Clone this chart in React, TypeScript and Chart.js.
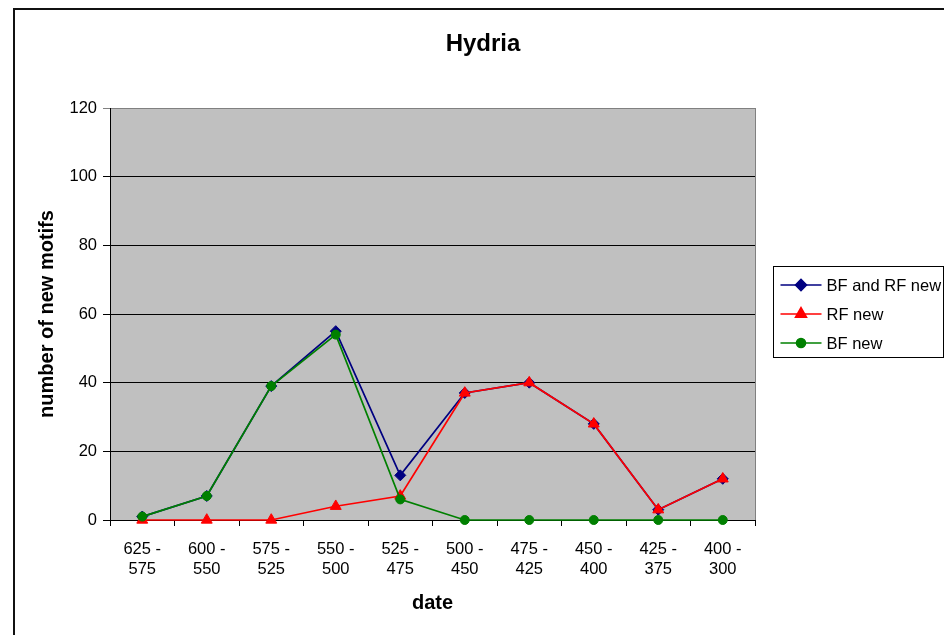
import React, { useEffect, useRef } from "react";
import { Chart, registerables } from "chart.js";
import { drawPoint } from "chart.js/helpers";

Chart.register(...registerables);

const chartTitle = "Hydria";
const xTitle = "date";
const yTitle = "number of new motifs";
const categories: string[][] = [
  ["625 -", "575"],
  ["600 -", "550"],
  ["575 -", "525"],
  ["550 -", "500"],
  ["525 -", "475"],
  ["500 -", "450"],
  ["475 -", "425"],
  ["450 -", "400"],
  ["425 -", "375"],
  ["400 -", "300"],
];
const seriesNames = ["BF and RF new", "RF new", "BF new"];
const bfAndRfNew = [1, 7, 39, 55, 13, 37, 40, 28, 3, 12];
const rfNew = [0, 0, 0, 4, 7, 37, 40, 28, 3, 12];
const bfNew = [1, 7, 39, 54, 6, 0, 0, 0, 0, 0];
const yMin = 0;
const yMax = 120;
const yStep = 20;

const FONT = '"Liberation Sans", Arial, Helvetica, sans-serif';

const framePlugin = {
  id: "frameAndPlot",
  beforeDraw(chart: any) {
    const { ctx, chartArea } = chart;
    ctx.save();
    ctx.fillStyle = "#C0C0C0";
    ctx.fillRect(chartArea.left, chartArea.top, chartArea.right - chartArea.left, chartArea.bottom - chartArea.top);
    // outer frame (left + top)
    ctx.strokeStyle = "#111";
    ctx.lineWidth = 2;
    ctx.beginPath();
    ctx.moveTo(6, chart.height);
    ctx.lineTo(6, 1);
    ctx.lineTo(chart.width, 1);
    ctx.stroke();
    ctx.restore();
  },
  beforeDatasetsDraw(chart: any) {
    const { ctx, chartArea } = chart;
    ctx.save();
    ctx.strokeStyle = "#808080";
    ctx.lineWidth = 1;
    ctx.beginPath();
    ctx.moveTo(Math.round(chartArea.right) + 0.5, chartArea.top);
    ctx.lineTo(Math.round(chartArea.right) + 0.5, chartArea.bottom);
    ctx.stroke();
    ctx.restore();
  },
};

const legendPlugin = {
  id: "boxLegend",
  afterDraw(chart: any) {
    const { ctx, chartArea } = chart;
    const left = Math.round(chartArea.right) + 18.5;
    const top = 258.5;
    const w = 170;
    const h = 91;
    ctx.save();
    ctx.fillStyle = "#fff";
    ctx.fillRect(left, top, w, h);
    ctx.strokeStyle = "#000";
    ctx.lineWidth = 1;
    ctx.strokeRect(left, top, w, h);
    chart.data.datasets.forEach((ds: any, i: number) => {
      const y = top + 18.5 + i * 29;
      ctx.strokeStyle = ds.borderColor;
      ctx.lineWidth = 1.6;
      ctx.beginPath();
      ctx.moveTo(left + 7, y);
      ctx.lineTo(left + 48, y);
      ctx.stroke();
      ctx.fillStyle = ds.pointBackgroundColor;
      ctx.strokeStyle = ds.pointBorderColor;
      drawPoint(ctx, { pointStyle: ds.pointStyle, rotation: 0, radius: ds.pointRadius, borderWidth: 1 }, left + 27.5, y);
      ctx.fillStyle = "#000";
      ctx.font = `16.5px ${FONT}`;
      ctx.textAlign = "left";
      ctx.textBaseline = "middle";
      ctx.fillText(ds.label, left + 53, y + 1);
    });
    ctx.restore();
  },
};

export default function App() {
  const ref = useRef<HTMLCanvasElement | null>(null);

  useEffect(() => {
    if (!ref.current) return;
    Chart.defaults.font.family = FONT;
    Chart.defaults.color = "#000";
    const mk = (label: string, data: number[], color: string, style: string, r: number) => ({
      label,
      data,
      borderColor: color,
      backgroundColor: color,
      pointBackgroundColor: color,
      pointBorderColor: color,
      pointStyle: style,
      pointRadius: r,
      pointBorderWidth: 1,
      borderWidth: 1.7,
      tension: 0,
      clip: false as any,
    });
    const chart = new Chart(ref.current, {
      type: "line",
      data: {
        labels: categories,
        datasets: [
          { ...mk(seriesNames[0], bfAndRfNew, "#000080", "rectRot", 5.5), order: 2 },
          { ...mk(seriesNames[1], rfNew, "#FF0000", "triangle", 6.3), order: 1 },
          { ...mk(seriesNames[2], bfNew, "#008000", "circle", 4.5), order: 0 },
        ],
      },
      options: {
        animation: false,
        responsive: false,
        devicePixelRatio: 1,
        layout: { padding: { left: 14, right: 0, top: 0, bottom: 0 } },
        plugins: {
          legend: { display: false },
          tooltip: { enabled: false },
          title: {
            display: true,
            text: chartTitle,
            color: "#000",
            font: { size: 24, weight: "bold", family: FONT },
            padding: { top: 21.6, bottom: 49.6 },
          },
        },
        scales: {
          x: {
            type: "category",
            offset: true,
            grid: {
              offset: true,
              drawOnChartArea: false,
              drawTicks: true,
              tickLength: 6,
              color: "#000",
            },
            border: { display: true, color: "#000", width: 1 },
            ticks: {
              maxRotation: 0,
              autoSkip: false,
              padding: 13,
              color: "#000",
              font: { size: 16.5, family: FONT, lineHeight: "20px" as any },
            },
            title: {
              display: true,
              text: xTitle,
              color: "#000",
              font: { size: 20, weight: "bold", family: FONT },
              padding: { top: 0, bottom: 20 },
            },
            afterFit: (s: any) => {
              s.height = 115;
            },
          },
          y: {
            min: yMin,
            max: yMax,
            ticks: {
              stepSize: yStep,
              padding: 6,
              color: "#000",
              font: { size: 16.5, family: FONT },
            },
            grid: {
              color: (c: any) => (c.tick && c.tick.value === yMax ? "#808080" : "#000"),
              lineWidth: 1,
              tickLength: 7,
              drawTicks: true,
            },
            border: { display: true, color: "#000", width: 1 },
            title: {
              display: true,
              text: yTitle,
              color: "#000",
              font: { size: 20, weight: "bold", family: FONT },
              padding: { top: 13, bottom: 0 },
            },
            afterFit: (s: any) => {
              s.width = 88;
            },
          },
          yRightSpace: {
            type: "linear",
            position: "right",
            display: true,
            min: 0,
            max: 1,
            grid: { display: false, drawTicks: false },
            border: { display: false },
            ticks: { display: false },
            afterFit: (s: any) => {
              s.width = 189;
            },
          },
        },
      } as any,
      plugins: [framePlugin, legendPlugin],
    });
    return () => chart.destroy();
  }, []);

  return (
    <div style={{ position: "fixed", left: 8, top: 8, width: 936, height: 627, overflow: "hidden" }}>
      <canvas ref={ref} width={936} height={627} style={{ display: "block", width: 936, height: 627 }} />
    </div>
  );
}
